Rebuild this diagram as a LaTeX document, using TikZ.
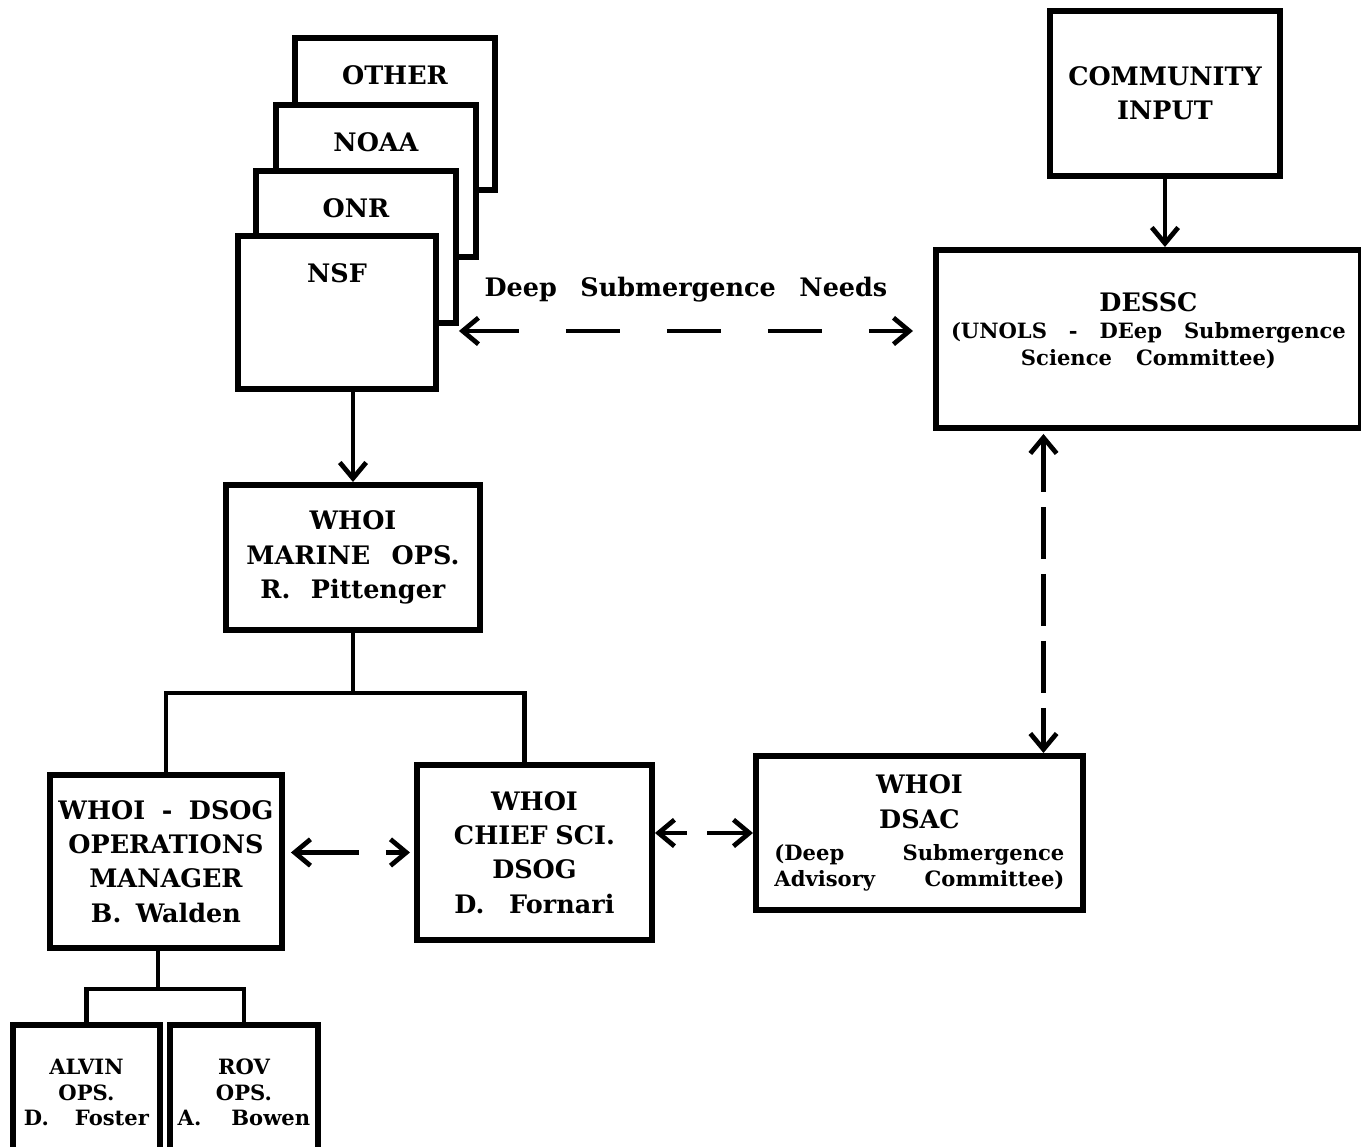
\documentclass[tikz,border=0pt]{standalone}
\usepackage{fontspec}
\setmainfont{DejaVu Serif}
\usetikzlibrary{arrows.meta}
\newcommand\mainfnt{\fontsize{14.5}{19.5}\selectfont\bfseries}
\newcommand\smallfnt{\fontsize{12}{14.5}\selectfont\bfseries}

\begin{document}
\begin{tikzpicture}[x=0.02cm,y=-0.02cm,>={Straight Barb[length=9pt,width=15pt]},
	main box/.style={draw,line width=3.4pt,fill=white,align=center,inner sep=0pt,anchor=north west,font=\mainfnt},
	card/.style={main box,minimum width=4cm,text height=0.94cm,text depth=2.1cm},
	line link/.style={line width=2.7pt},
	two way/.style={line link,<->}]

	\useasboundingbox (0,0) rectangle (1361,1146);
	\clip (0,0) rectangle (1361,1146);

	% funding agencies, stacked
	\node[card] (other) at (292,35) {OTHER};
	\node[card] (noaa) at (273,102) {NOAA};
	\node[card] (onr) at (253,168) {ONR};
	\node[card,minimum width=3.96cm,text depth=2.12cm] (nsf) at (235,233) {NSF};

	\node[main box,minimum width=4.6cm,minimum height=3.3cm] (community) at (1047,8) {COMMUNITY\\INPUT};
	\node[main box,minimum width=8.5cm,minimum height=3.56cm] (dessc) at (933,247)
		{DESSC\\[-4pt]{\smallfnt\makebox[7.9cm]{(UNOLS\hfill-\hfill DEep\hfill Submergence}}\\[-4pt]
		{\smallfnt\makebox[5.1cm]{Science\hfill Committee)}}\\[-8pt]};

	\node[main box,minimum width=5.08cm,minimum height=2.9cm] (marine) at (223,482)
		{WHOI\\\makebox[4.26cm]{MARINE\hfill OPS.}\\\makebox[3.7cm]{R.\hfill Pittenger}};

	\node[main box,minimum width=4.64cm,minimum height=3.46cm] (ops) at (47,772)
		{\makebox[4.3cm]{WHOI\hfill-\hfill DSOG}\\OPERATIONS\\MANAGER\\\makebox[3.0cm]{B.\hfill Walden}};
	\node[main box,minimum width=4.7cm,minimum height=3.5cm] (chief) at (414,762)
		{WHOI\\\makebox[3.22cm]{CHIEF\hfill SCI.}\\DSOG\\\makebox[3.2cm]{D.\hfill Fornari}};
	\node[main box,minimum width=6.54cm,minimum height=3.08cm] (dsac) at (753,753)
		{WHOI\\DSAC\\[-1pt]{\smallfnt\makebox[5.8cm]{(Deep\hfill Submergence}}\\[-5pt]
		{\smallfnt\makebox[5.8cm]{Advisory\hfill Committee)}}};

	\node[main box,minimum width=2.94cm,minimum height=2.7cm,font=\smallfnt] (alvin) at (10,1022)
		{ALVIN\\OPS.\\\makebox[2.5cm]{D.\hfill Foster}};
	\node[main box,minimum width=2.96cm,minimum height=2.7cm,font=\smallfnt] (rov) at (167,1022)
		{ROV\\OPS.\\\makebox[2.65cm]{A.\hfill Bowen}};

	% connectors
	\draw[line link,->] (nsf.south -| marine.north) -- (marine.north);
	\draw[line link,->] (community.south) -- (community.south |- dessc.north);

	\draw[two way,dash pattern=on 1.08cm off 0.94cm,shorten <=0.4cm,shorten >=0.4cm]
		([yshift=0.16cm]nsf.east |- dessc.west) -- node[above=0.42cm,font=\mainfnt]
		{\makebox[8.06cm]{Deep\hfill Submergence\hfill Needs}} ([yshift=0.16cm]dessc.west);
	\draw[two way,dash pattern=on 1.04cm off 0.3cm,shorten <=0.06cm]
		([xshift=-2.1cm]dessc.south) -- ([xshift=-2.1cm]dessc.south |- dsac.north);
	\draw[two way,dash pattern=on 1.24cm off 0.54cm,shorten <=0.12cm,shorten >=0.08cm]
		(chief.west -| ops.east) -- (chief.west);
	\draw[two way,dash pattern=on 0.52cm off 0.4cm on 1.3cm off 0.1cm]
		(dsac.west -| chief.east) -- (dsac.west);

	\draw[line link] (marine.south) -- ++(0,60) coordinate (fork) -| (ops.north);
	\draw[line link] (fork) -| ([xshift=-0.2cm]chief.north);
	\draw[line link] ([xshift=-0.16cm]ops.south) -- ++(0,38) coordinate (subfork) -| (alvin.north);
	\draw[line link] (subfork) -| (rov.north);
\end{tikzpicture}
\end{document}
